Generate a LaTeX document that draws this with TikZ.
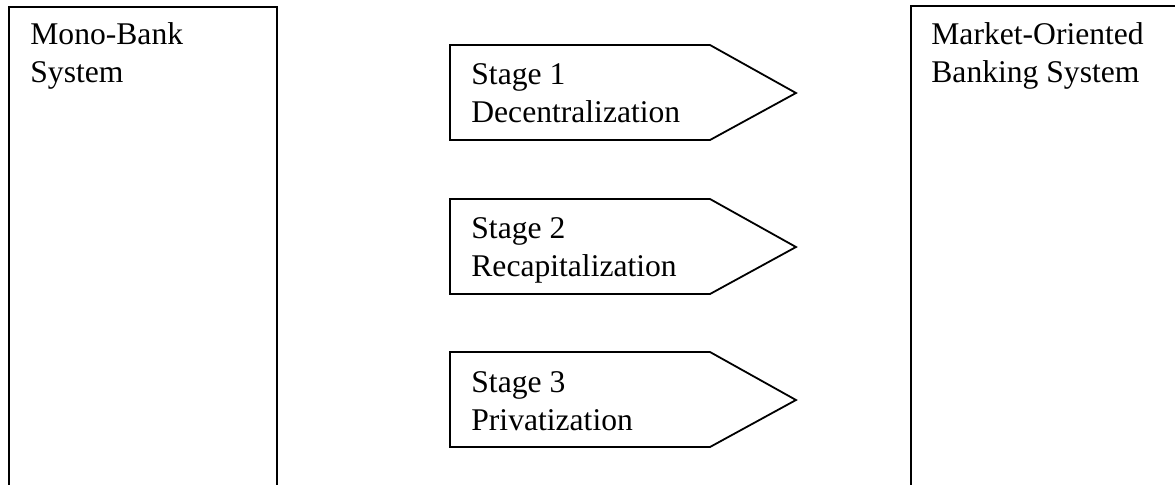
\documentclass[tikz,border=0pt]{standalone}
\usepackage{fontspec}
\setmainfont{Liberation Serif}
\begin{document}
\begin{tikzpicture}[x=0.5pt,y=-0.5pt,
  frame/.style={draw=black,line width=1pt},
  label/.style={anchor=base west,inner sep=0pt,align=left,
    font=\fontsize{15.8}{18.6}\selectfont},
  stage/.style={draw=black,line width=0.9pt,line join=miter}]
\useasboundingbox (0,0) rectangle (1175,484);
\clip (0,0) rectangle (1175,484);
% outer system boxes (run off the page)
\draw[frame] (9,7) rectangle (277,520);
\draw[frame] (911,6) rectangle (1200,520);
% labels are placed by the baseline of their last line
\node[label] (mono) at (30,82) {Mono-Bank\\System};
\node[label] (market) at (931,82) {Market-Oriented\\Banking System};
% stage pentagons
\foreach \i/\top in {1/45,2/199,3/352}{
  \coordinate (s\i nw) at (450,\top);
  \coordinate (s\i ne) at (710,\top);
  \coordinate (s\i tip) at (796,\top+48);
  \coordinate (s\i se) at (710,\top+95);
  \coordinate (s\i sw) at (450,\top+95);
  \draw[stage] (s\i nw) -- (s\i ne) -- (s\i tip) -- (s\i se) -- (s\i sw) -- cycle;
}
\node[label] (st1) at (471,122) {Stage 1\\Decentralization};
\node[label] (st2) at (471,276) {Stage 2\\Recapitalization};
\node[label] (st3) at (471,430) {Stage 3\\Privatization};
\end{tikzpicture}
\end{document}
